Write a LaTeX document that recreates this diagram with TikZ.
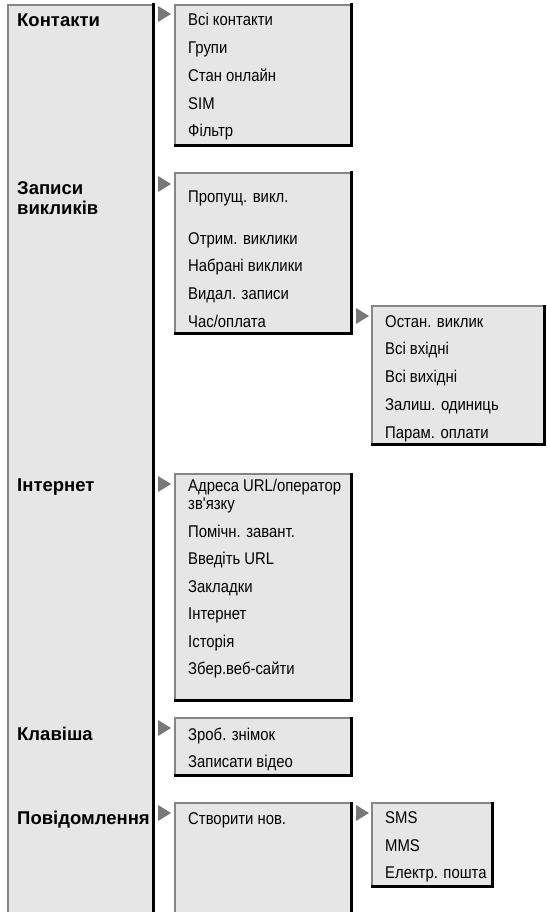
\documentclass[tikz,border=0pt]{standalone}
\usepackage{fontspec}
\setmainfont{Liberation Sans}
\newfontfamily\itemfont[FakeStretch=0.875]{Liberation Sans}
\definecolor{panelfill}{HTML}{E6E6E6}
\definecolor{edgegray}{HTML}{858585}
\definecolor{markgray}{HTML}{787878}
\tikzset{
  panel/.style={fill=panelfill, draw=none, inner sep=0pt, outer sep=0pt, anchor=north west},
  lightedge/.style={draw=edgegray, line width=2pt},
  darkedge/.style={draw=black, line width=3pt, line cap=rect},
  itemtext/.style={anchor=base west, inner sep=0pt, font=\itemfont\fontsize{17}{19}\selectfont},
  headtext/.style={anchor=base west, inner sep=0pt, align=left, font=\bfseries\fontsize{18.5}{20}\selectfont},
  markshape/.style={fill=markgray}
}
\newcommand\panelbox[5]{%
  \node[panel, minimum width={(#4-#2)*1pt}, minimum height={(#5-#3)*1pt}] (#1) at (#2,#3) {};
  \draw[lightedge] (#1.south west) -- (#1.north west) -- (#1.north east);
  \draw[darkedge] (#1.north east) -- (#1.south east) -- (#1.south west);
}
\newcommand\pointer[3]{%
  \coordinate (#1) at (#2,#3);
  \fill[markshape] (#1) -- ++(13,8) -- ++(-13,8) -- cycle;
}
\begin{document}
\begin{tikzpicture}[x=1pt,y=-1pt]
\useasboundingbox (0,0) rectangle (546,912);
% main column
\node[panel, minimum width=145pt, minimum height=930pt] (main) at (8,5) {};
\draw[lightedge] (main.south west) -- (main.north west) -- (main.north east);
\draw[darkedge] (main.north east) -- (main.south east);
% sub panels
\panelbox{p1}{175}{5}{351}{146}
\panelbox{p2}{175}{173}{351}{333}
\panelbox{p3}{372}{306}{544}{444}
\panelbox{p4}{175}{474}{351}{700}
\panelbox{p5}{175}{718}{351}{775}
\panelbox{p6}{175}{803}{351}{935}
\panelbox{p7}{372}{803}{492}{886}
% pointers
\pointer{m1}{158}{6}
\pointer{m2}{158}{176}
\pointer{m3}{356}{308}
\pointer{m4}{158}{476}
\pointer{m5}{158}{720}
\pointer{m6}{158}{805}
\pointer{m7}{356}{805}
% headings
\node[headtext] (h1) at (17,27) {Контакти};
\node[headtext] (h2) at (17,214.5) {Записи\\викликів};
\node[headtext] (h3) at (17,491) {Інтернет};
\node[headtext] (h4) at (17,740) {Клавіша};
\node[headtext] (h5) at (17,824) {Повідомлення};
% panel 1
\node[itemtext] (a1) at (188,26) {Всі контакти};
\node[itemtext] (a2) at (188,53.75) {Групи};
\node[itemtext] (a3) at (188,81.5) {Стан онлайн};
\node[itemtext] (a4) at (188,109.25) {SIM};
\node[itemtext] (a5) at (188,137) {Фільтр};
% panel 2
\node[itemtext] (b1) at (188,202) {Пропущ. викл.};
\node[itemtext] (b2) at (188,244) {Отрим. виклики};
\node[itemtext] (b3) at (188,271.75) {Набрані виклики};
\node[itemtext] (b4) at (188,299.5) {Видал. записи};
\node[itemtext] (b5) at (188,327) {Час/оплата};
% panel 3
\node[itemtext] (c1) at (385,327) {Остан. виклик};
\node[itemtext] (c2) at (385,354.75) {Всі вхідні};
\node[itemtext] (c3) at (385,382.5) {Всі вихідні};
\node[itemtext] (c4) at (385,410.25) {Залиш. одиниць};
\node[itemtext] (c5) at (385,438) {Парам. оплати};
% panel 4
\node[itemtext] (d1) at (188,491) {Адреса URL/оператор};
\node[itemtext] (d2) at (188,509) {зв'язку};
\node[itemtext] (d3) at (188,537) {Помічн. завант.};
\node[itemtext] (d4) at (188,564.5) {Введіть URL};
\node[itemtext] (d5) at (188,592) {Закладки};
\node[itemtext] (d6) at (188,619.5) {Інтернет};
\node[itemtext] (d7) at (188,647) {Історія};
\node[itemtext] (d8) at (188,674.5) {Збер.веб-сайти};
% panel 5
\node[itemtext] (e1) at (188,740) {Зроб. знімок};
\node[itemtext] (e2) at (188,767) {Записати відео};
% panel 6
\node[itemtext] (f1) at (188,824) {Створити нов.};
% panel 7
\node[itemtext] (g1) at (385,823.5) {SMS};
\node[itemtext] (g2) at (385,851) {MMS};
\node[itemtext] (g3) at (385,878.5) {Електр. пошта};
\end{tikzpicture}
\end{document}
